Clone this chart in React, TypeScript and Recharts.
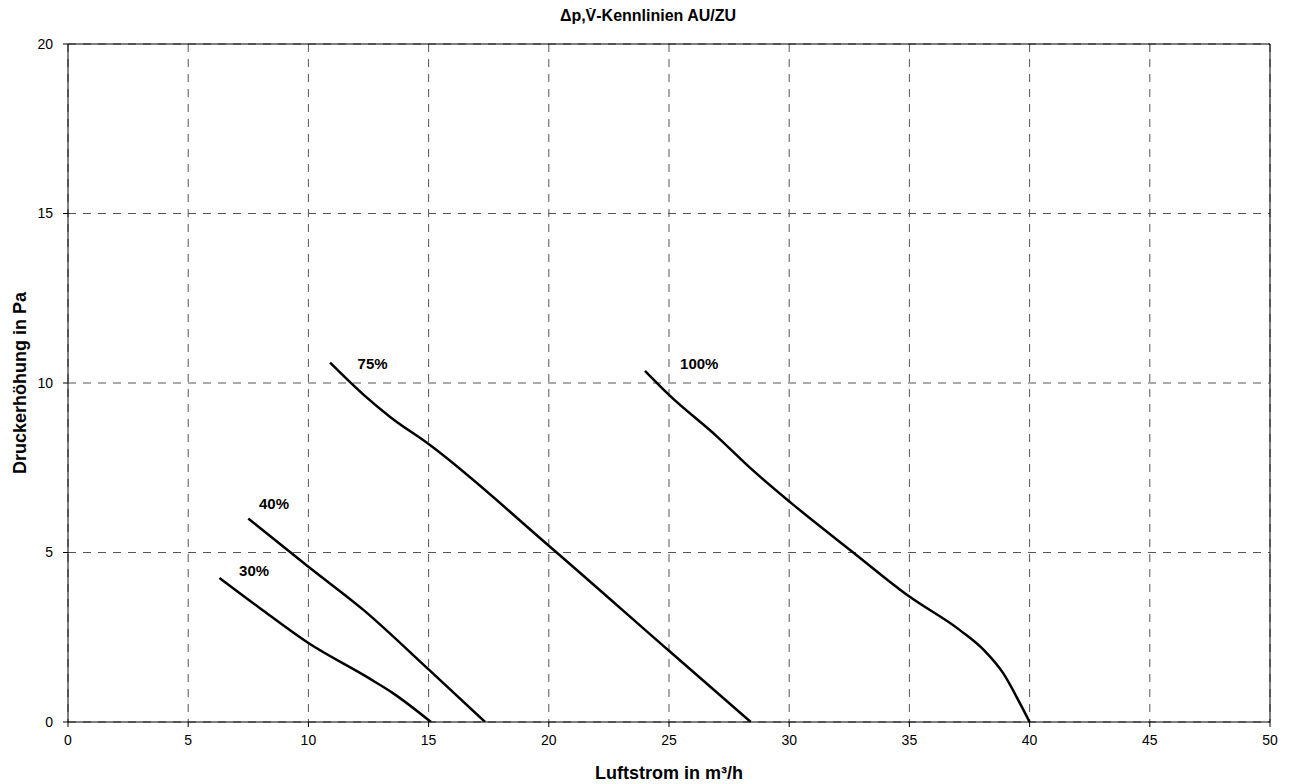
import {
  CartesianGrid,
  Line,
  LineChart,
  ReferenceDot,
  ReferenceLine,
  XAxis,
  YAxis
} from "recharts";

type Pt = { q: number; dp: number };

// Kennlinien
const curve30: Pt[] = [
  { q: 6.3, dp: 4.25 },
  { q: 8, dp: 3.35 },
  { q: 10, dp: 2.33 },
  { q: 12.5, dp: 1.3 },
  { q: 13.5, dp: 0.86 },
  { q: 15.1, dp: 0 }
];

const curve40: Pt[] = [
  { q: 7.5, dp: 6.0 },
  { q: 10, dp: 4.58 },
  { q: 12.3, dp: 3.3 },
  { q: 15, dp: 1.55 },
  { q: 17.35, dp: 0 }
];

const curve75: Pt[] = [
  { q: 10.9, dp: 10.6 },
  { q: 12.3, dp: 9.65 },
  { q: 13.4, dp: 9.0 },
  { q: 15, dp: 8.2 },
  { q: 20, dp: 5.2 },
  { q: 25, dp: 2.1 },
  { q: 28.4, dp: 0 }
];

const curve100: Pt[] = [
  { q: 24.0, dp: 10.36 },
  { q: 25, dp: 9.65 },
  { q: 27, dp: 8.42 },
  { q: 28.4, dp: 7.48 },
  { q: 30.1, dp: 6.45 },
  { q: 32.7, dp: 4.98 },
  { q: 35, dp: 3.7 },
  { q: 37.1, dp: 2.71 },
  { q: 38.1, dp: 2.12 },
  { q: 38.9, dp: 1.44 },
  { q: 39.6, dp: 0.55 },
  { q: 40, dp: 0 }
];

const curveLabels = [
  { text: "30%", q: 7.74, dp: 4.46 },
  { text: "40%", q: 8.57, dp: 6.43 },
  { text: "75%", q: 12.67, dp: 10.56 },
  { text: "100%", q: 26.26, dp: 10.56 }
];

const xTicks = [0, 5, 10, 15, 20, 25, 30, 35, 40, 45, 50];
const yTicks = [0, 5, 10, 15, 20];

const font = "'Liberation Sans', Arial, sans-serif";

function App() {
  const series = [curve30, curve40, curve75, curve100];

  return (
    <div style={{ position: "relative", width: 1280, height: 776, fontFamily: font, background: "#fff" }}>
      <LineChart
        width={1280}
        height={776}
        margin={{ top: 36, right: 18, bottom: 32, left: 20 }}
      >
        <CartesianGrid stroke="#555" strokeDasharray="8 7" strokeWidth={1} />
        <XAxis
          type="number"
          dataKey="q"
          domain={[0, 50]}
          ticks={xTicks}
          allowDataOverflow
          stroke="#000"
          tickSize={5}
          tickMargin={8}
          height={30}
          tick={{ fill: "#000", fontSize: 14, fontFamily: font }}
          label={{
            value: "Luftstrom in m³/h",
            position: "bottom",
            offset: 14,
            style: { fill: "#000", fontWeight: "bold", fontSize: 18, fontFamily: font }
          }}
        />
        <YAxis
          type="number"
          dataKey="dp"
          domain={[0, 20]}
          ticks={yTicks}
          allowDataOverflow
          stroke="#000"
          tickSize={5}
          tickMargin={10}
          width={40}
          tick={{ fill: "#000", fontSize: 14, fontFamily: font }}
          label={{
            value: "Druckerhöhung in Pa",
            angle: -90,
            position: "insideLeft",
            offset: -8,
            style: { fill: "#000", fontWeight: "bold", fontSize: 18, fontFamily: font, textAnchor: "middle" }
          }}
        />
        <ReferenceLine y={20} stroke="#000" strokeWidth={1} />
        <ReferenceLine x={50} stroke="#000" strokeWidth={1} />
        {series.map((d, i) => (
          <Line
            key={i}
            data={d}
            dataKey="dp"
            type="monotone"
            stroke="#000"
            strokeWidth={2.5}
            dot={false}
            activeDot={false}
            isAnimationActive={false}
          />
        ))}
        {curveLabels.map((l) => (
          <ReferenceDot
            key={l.text}
            x={l.q}
            y={l.dp}
            r={0}
            fill="none"
            stroke="none"
            label={{
              value: l.text,
              position: "center",
              style: { fill: "#000", fontWeight: "bold", fontSize: 15, fontFamily: font }
            }}
          />
        ))}
      </LineChart>
      <div
        style={{
          position: "absolute",
          top: -2,
          left: 0,
          width: 1280,
          textAlign: "center",
          fontWeight: "bold",
          fontSize: 16,
          lineHeight: "20px",
          zIndex: 2
        }}
      >
        Δp,
        <span style={{ position: "relative", display: "inline-block" }}>
          V
          {/* Punkt über dem V (Volumenstrom) */}
          <span
            style={{
              position: "absolute",
              left: "50%",
              top: 0,
              width: 3,
              height: 3,
              marginLeft: -1.5,
              borderRadius: "50%",
              background: "#000"
            }}
          />
        </span>
        -Kennlinien AU/ZU
      </div>
    </div>
  );
}

export default App;
